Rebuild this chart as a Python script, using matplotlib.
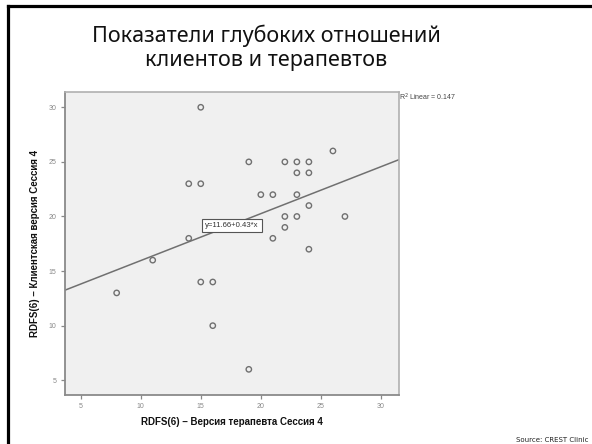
import numpy as np
import matplotlib
matplotlib.use("Agg")
import matplotlib.pyplot as plt
from matplotlib.lines import Line2D

# Data
therapist = [15, 19, 22, 23, 24, 26, 23, 24, 14, 15, 20, 21, 23, 24, 22, 23, 27,
             22, 21, 14, 24, 11, 8, 15, 16, 16, 19]
client = [30, 25, 25, 25, 25, 26, 24, 24, 23, 23, 22, 22, 22, 21, 20, 20, 20,
          19, 18, 18, 17, 16, 13, 14, 14, 10, 6]
fit_intercept = 11.66
fit_slope = 0.43
r2_text = "R$^2$ Linear = 0.147"
eq_text = "y=11.66+0.43*x"
x_ticks = [5, 10, 15, 20, 25, 30]
y_ticks = [5, 10, 15, 20, 25, 30]
title = "Показатели глубоких отношений\nклиентов и терапевтов"
xlabel = "RDFS(6) – Версия терапевта Сессия 4"
ylabel = "RDFS(6) – Клиентская версия Сессия 4"
source = "Source: CREST Clinic"

W, H = 592, 444
fig = plt.figure(figsize=(W / 100, H / 100), dpi=100)
fig.patch.set_facecolor("white")

# slide frame (top and left black border)
fig.add_artist(Line2D([7.5 / W, 7.5 / W], [0, 1 - 6.5 / H], color="black", lw=2.3,
                      transform=fig.transFigure, solid_capstyle="projecting"))
fig.add_artist(Line2D([7.5 / W, 1], [1 - 6.5 / H, 1 - 6.5 / H], color="black", lw=2.3,
                      transform=fig.transFigure, solid_capstyle="projecting"))

fig.text(266 / W, 1 - 48 / H, title, ha="center", va="center", fontsize=15.5,
         family="Noto Sans", linespacing=1.22, color="#111111")

ax = fig.add_axes([65 / W, 49 / H, (399 - 65) / W, (395 - 92) / H])
ax.set_facecolor("#f0f0f0")
ax.set_xlim(3.7, 31.5)
ax.set_ylim(3.65, 31.4)

xs = np.array(ax.get_xlim())
ax.plot(xs, fit_intercept + fit_slope * xs, color="#707070", lw=1.1, zorder=2)

ax.scatter(therapist, client, s=15, facecolors="none", edgecolors="#707070",
           linewidths=1.0, zorder=3)

ax.text(17.6, 19.2, eq_text, ha="center", va="center", fontsize=5.6,
        family="Liberation Sans", color="#333333", zorder=4,
        bbox=dict(boxstyle="square,pad=0.4", fc="white", ec="#555555", lw=0.8))

ax.text(1.0, 1.0, r2_text, transform=ax.transAxes, ha="left", va="top",
        fontsize=5, family="Liberation Sans", color="#444444")

ax.set_xticks(x_ticks)
ax.set_yticks(y_ticks)
ax.tick_params(axis="both", direction="out", length=3, width=0.9, color="#888888",
               labelsize=5, labelcolor="#888888", pad=3)
for lab in ax.get_xticklabels() + ax.get_yticklabels():
    lab.set_family("Liberation Sans")

for side in ["left", "bottom"]:
    ax.spines[side].set_color("#8a8a8a")
    ax.spines[side].set_linewidth(1.3)
for side in ["top", "right"]:
    ax.spines[side].set_color("#b0b0b0")
    ax.spines[side].set_linewidth(1.2)

ax.set_xlabel(xlabel, fontsize=7, fontweight="bold", family="Liberation Sans",
              labelpad=5, color="#111111")
ax.set_ylabel(ylabel, fontsize=7, fontweight="bold", family="Liberation Sans",
              labelpad=6, color="#111111")

fig.text(1 - 3 / W, 1.5 / H, source, ha="right", va="bottom", fontsize=5,
         family="DejaVu Sans", color="#222222")

fig.savefig("out.png", dpi=100)
